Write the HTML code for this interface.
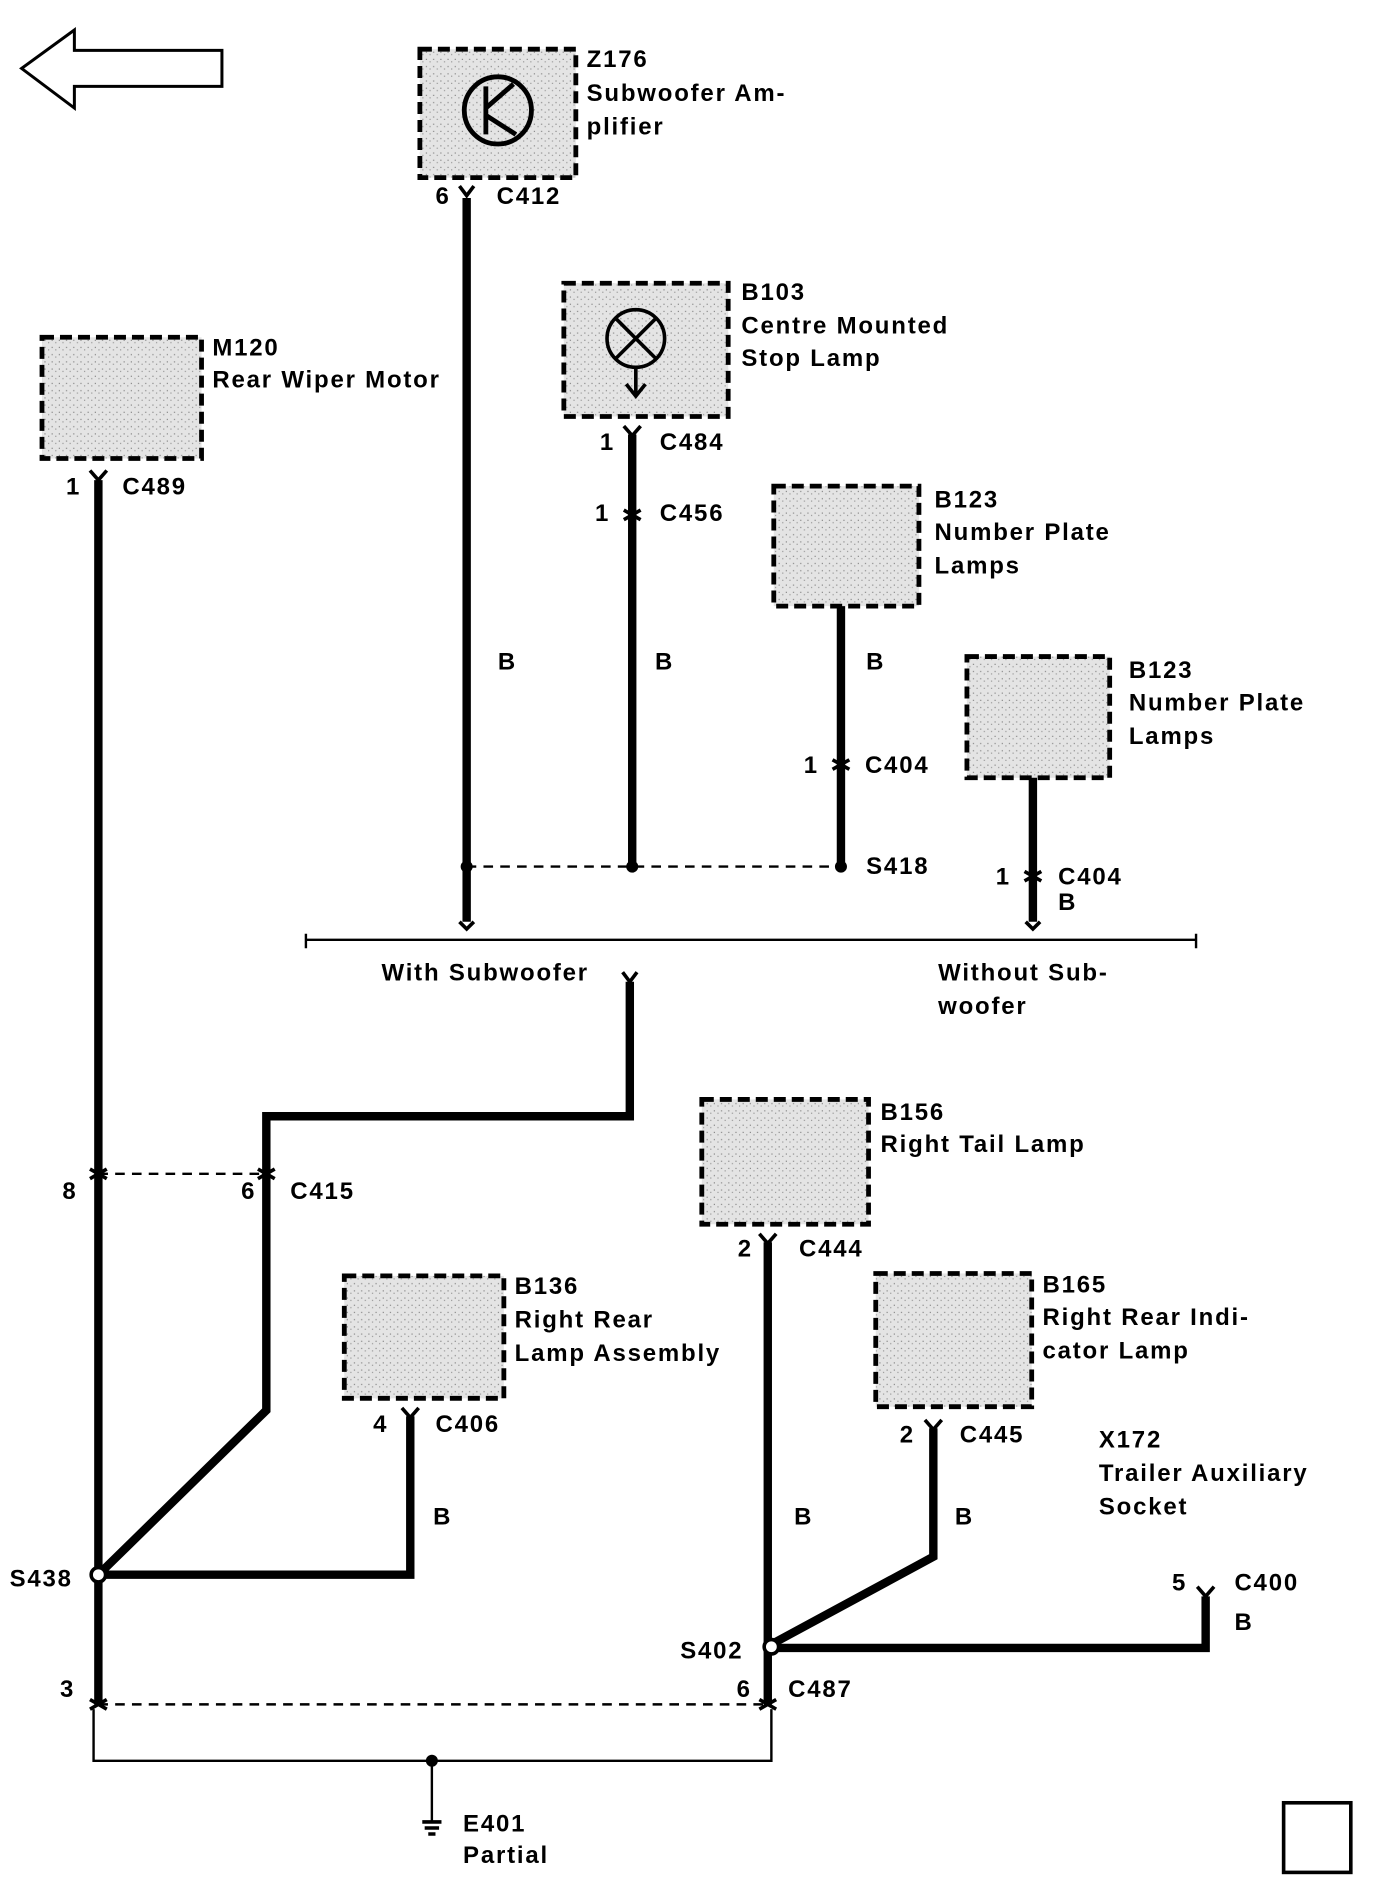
<!DOCTYPE html>
<html><head><meta charset="utf-8">
<style>
html,body{margin:0;padding:0;background:#fff;}
svg{display:block;}
text{font-family:"Liberation Sans",Arial,sans-serif;font-weight:bold;font-size:20px;letter-spacing:1.5px;fill:#000;}
</style></head>
<body>
<svg width="1376" height="1882" viewBox="0 0 1147 1568" preserveAspectRatio="none" xmlns="http://www.w3.org/2000/svg">
<defs>
<pattern id="st" width="6" height="6" patternUnits="userSpaceOnUse">
<rect width="6" height="6" fill="#e4e4e4"/><rect x="1" y="1" width="1" height="1" fill="#888"/><rect x="4" y="3" width="1" height="1" fill="#999"/>
</pattern>
</defs>
<rect width="1147" height="1568" fill="#fff"/>
<path d="M185,42 L185,72 L62,72 L62,90 L18,57 L62,25 L62,42 Z" fill="#fff" stroke="#000" stroke-width="2.5"/>
<g fill="url(#st)" stroke="#000" stroke-width="4" stroke-dasharray="10,5">
<rect x="350" y="41" width="130" height="107"/>
<rect x="35" y="281" width="133" height="101"/>
<rect x="470" y="236" width="137" height="111"/>
<rect x="645" y="405" width="121" height="100"/>
<rect x="806" y="547" width="119" height="101"/>
<rect x="585" y="916" width="139" height="104"/>
<rect x="287" y="1063" width="133" height="102"/>
<rect x="730" y="1061" width="130" height="111"/>
</g>
<rect x="1070" y="1502" width="56" height="58" fill="#fff" stroke="#000" stroke-width="3"/>
<circle cx="415" cy="92" r="28" fill="none" stroke="#000" stroke-width="4"/>
<path d="M405,72 L405,112 M405,90 L428,70 M405,96 L430,112" stroke="#000" stroke-width="4" fill="none"/>
<circle cx="530" cy="282" r="24" fill="none" stroke="#000" stroke-width="3"/>
<path d="M513,265 L547,299 M547,265 L513,299 M530,306 L530,330 M522,320 L530,330 L538,320" stroke="#000" stroke-width="3" fill="none"/>
<g stroke="#000" stroke-width="7" fill="none">
<path d="M389,165 L389,768"/>
<path d="M527,362 L527,722"/>
<path d="M701,505 L701,722"/>
<path d="M861,648 L861,768"/>
<path d="M525,818 L525,930 L222,930 L222,1175 L82,1312"/>
<path d="M82,400 L82,1420"/>
<path d="M82,1312 L342,1312 L342,1180"/>
<path d="M640,1035 L640,1420"/>
<path d="M643,1370 L778,1297 L778,1190"/>
<path d="M643,1373 L1005,1373 L1005,1330"/>
</g>
<g stroke="#000" stroke-width="3" fill="none">
<path d="M383,155 L389,163 L395,155"/>
<path d="M75,392 L82,400 L89,392"/>
<path d="M520,355 L527,363 L534,355"/>
<path d="M633,1028 L640,1036 L647,1028"/>
<path d="M335,1173 L342,1181 L349,1173"/>
<path d="M771,1183 L778,1191 L785,1183"/>
<path d="M998,1322 L1005,1330 L1012,1322"/>
<path d="M519,810 L525,818 L531,810"/>
<path d="M383,768 L389,774 L395,768"/>
<path d="M855,768 L861,774 L867,768"/>
<path d="M520,425 l7,4 l7,-4 M520,433 l7,-4 l7,4"/>
<path d="M694,633 l7,4 l7,-4 M694,641 l7,-4 l7,4"/>
<path d="M854,726 l7,4 l7,-4 M854,734 l7,-4 l7,4"/>
<path d="M75,974 l7,4 l7,-4 M75,982 l7,-4 l7,4"/>
<path d="M215,974 l7,4 l7,-4 M215,982 l7,-4 l7,4"/>
<path d="M75,1416 l7,4 l7,-4 M75,1424 l7,-4 l7,4"/>
<path d="M633,1416 l7,4 l7,-4 M633,1424 l7,-4 l7,4"/>
</g>
<g stroke="#000" stroke-width="2" stroke-dasharray="8,6" fill="none">
<path d="M389,722 L701,722"/>
<path d="M82,978 L222,978"/>
<path d="M82,1420 L640,1420"/>
</g>
<path d="M255,783 L997,783 M255,778 L255,790 M997,778 L997,790" stroke="#000" stroke-width="2" fill="none"/>
<path d="M78,1424 L78,1467 L643,1467 L643,1424 M360,1467 L360,1518" stroke="#000" stroke-width="2" fill="none"/>
<path d="M352,1518 L368,1518 M354,1523 L366,1523 M357,1528 L363,1528" stroke="#000" stroke-width="3"/>
<g fill="#000"><circle cx="389" cy="722" r="5"/><circle cx="527" cy="722" r="5"/><circle cx="701" cy="722" r="5"/><circle cx="360" cy="1467" r="5"/></g>
<circle cx="82" cy="1312" r="6" fill="#fff" stroke="#000" stroke-width="3"/>
<circle cx="643" cy="1372" r="6" fill="#fff" stroke="#000" stroke-width="3"/>
<text x="489" y="56">Z176</text><text x="489" y="84">Subwoofer Am-</text><text x="489" y="112">plifier</text>
<text x="363" y="170">6</text><text x="414" y="170">C412</text>
<text x="618" y="250">B103</text><text x="618" y="278">Centre Mounted</text><text x="618" y="305">Stop Lamp</text>
<text x="177" y="296">M120</text><text x="177" y="323">Rear Wiper Motor</text>
<text x="55" y="412">1</text><text x="102" y="412">C489</text>
<text x="500" y="375">1</text><text x="550" y="375">C484</text>
<text x="496" y="434">1</text><text x="550" y="434">C456</text>
<text x="779" y="423">B123</text><text x="779" y="450">Number Plate</text><text x="779" y="478">Lamps</text>
<text x="415" y="558">B</text><text x="546" y="558">B</text><text x="722" y="558">B</text>
<text x="941" y="565">B123</text><text x="941" y="592">Number Plate</text><text x="941" y="620">Lamps</text>
<text x="670" y="644">1</text><text x="721" y="644">C404</text>
<text x="722" y="728">S418</text>
<text x="830" y="737">1</text><text x="882" y="737">C404</text><text x="882" y="758">B</text>
<text x="318" y="817">With Subwoofer</text>
<text x="782" y="817">Without Sub-</text><text x="782" y="845">woofer</text>
<text x="734" y="933">B156</text><text x="734" y="960">Right Tail Lamp</text>
<text x="52" y="999">8</text><text x="201" y="999">6</text><text x="242" y="999">C415</text>
<text x="615" y="1047">2</text><text x="666" y="1047">C444</text>
<text x="429" y="1078">B136</text><text x="429" y="1106">Right Rear</text><text x="429" y="1134">Lamp Assembly</text>
<text x="869" y="1077">B165</text><text x="869" y="1104">Right Rear Indi-</text><text x="869" y="1132">cator Lamp</text>
<text x="311" y="1193">4</text><text x="363" y="1193">C406</text>
<text x="750" y="1202">2</text><text x="800" y="1202">C445</text>
<text x="916" y="1206">X172</text><text x="916" y="1234">Trailer Auxiliary</text><text x="916" y="1262">Socket</text>
<text x="361" y="1270">B</text><text x="662" y="1270">B</text><text x="796" y="1270">B</text>
<text x="8" y="1322">S438</text>
<text x="977" y="1325">5</text><text x="1029" y="1325">C400</text><text x="1029" y="1358">B</text>
<text x="567" y="1382">S402</text>
<text x="50" y="1414">3</text><text x="614" y="1414">6</text><text x="657" y="1414">C487</text>
<text x="386" y="1526">E401</text><text x="386" y="1552">Partial</text>
</svg>
</body></html>
